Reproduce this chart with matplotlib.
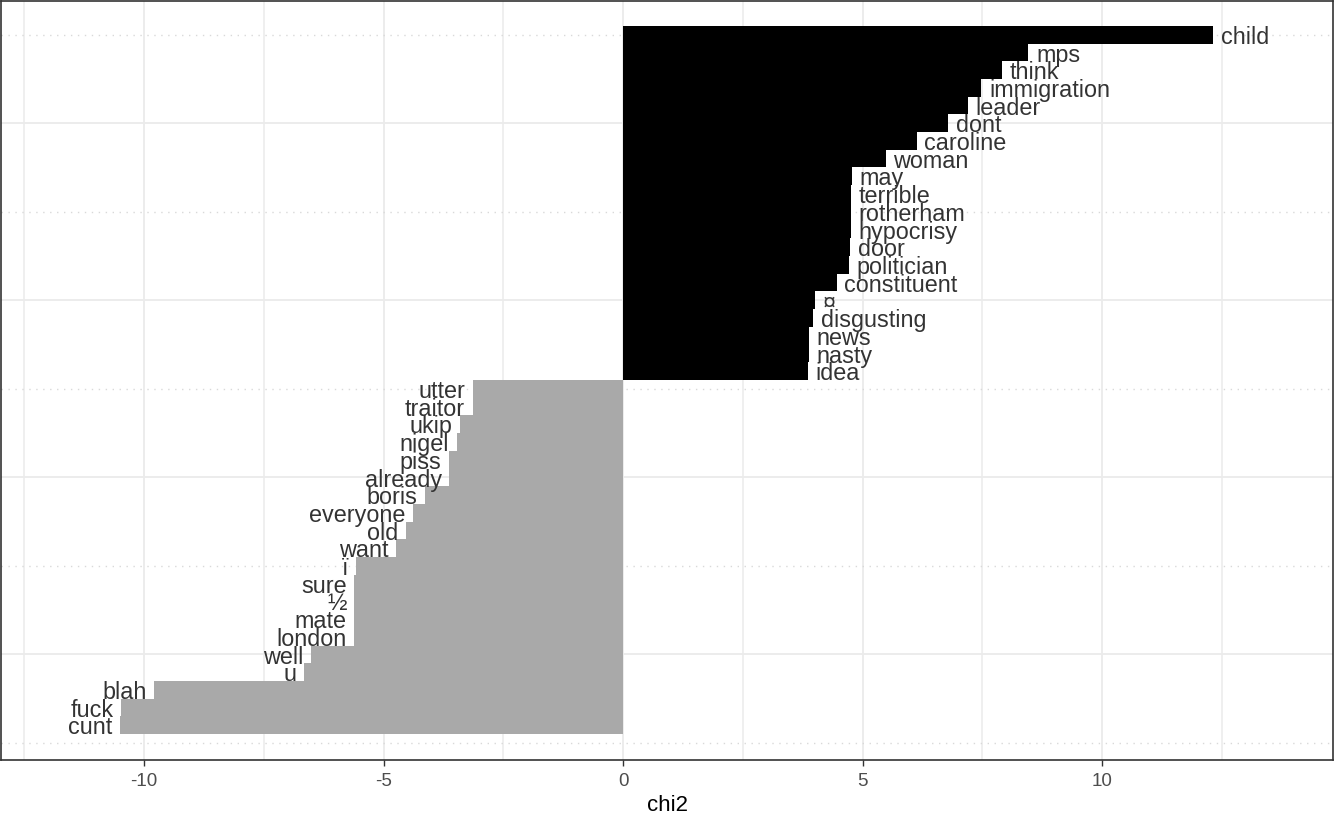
import numpy as np
import matplotlib
matplotlib.use("Agg")
import matplotlib.pyplot as plt
from matplotlib.ticker import MultipleLocator, FixedLocator

plt.rcParams['font.family'] = ['Liberation Sans', 'DejaVu Sans']

# words ordered top to bottom, with their chi2 values
pos_words = ['child', 'mps', 'think', 'immigration', 'leader', 'dont', 'caroline',
             'woman', 'may', 'terrible', 'rotherham', 'hypocrisy', 'door', 'politician',
             'constituent', '¤', 'disgusting', 'news', 'nasty', 'idea']
pos_chi2 = [12.32, 8.46, 7.90, 7.48, 7.20, 6.78, 6.13, 5.48, 4.77, 4.75,
            4.75, 4.75, 4.74, 4.72, 4.46, 4.01, 3.97, 3.87, 3.87, 3.86]

neg_words = ['utter', 'traitor', 'ukip', 'nigel', 'piss', 'already', 'boris',
             'everyone', 'old', 'want', 'ï', 'sure', '½', 'mate', 'london',
             'well', 'u', 'blah', 'fuck', 'cunt']
neg_chi2 = [-3.14, -3.14, -3.40, -3.47, -3.63, -3.63, -4.13, -4.39, -4.53, -4.74,
            -5.58, -5.61, -5.61, -5.61, -5.61, -6.51, -6.66, -9.79, -10.48, -10.51]

words = pos_words + neg_words
chi2 = np.array(pos_chi2 + neg_chi2)
n = len(words)
ypos = np.arange(n, 0, -1)  # top word at n, bottom at 1
colors = ['black' if v > 0 else '#A9A9A9' for v in chi2]

fig = plt.figure(figsize=(13.35, 8.15), dpi=100)
ax = fig.add_axes([1 / 1335, 55 / 815, 1332 / 1335, 759 / 815])

ax.barh(ypos, chi2, height=1.0, color=colors, linewidth=0, zorder=2)

for y, v, w in zip(ypos, chi2, words):
    if v > 0:
        ax.text(v + 0.16, y - 0.15, w, ha='left', va='center', fontsize=16.8,
                color='#333333', zorder=3)
    else:
        ax.text(v - 0.16, y - 0.15, w, ha='right', va='center', fontsize=16.8,
                color='#333333', zorder=3)

ax.set_xlim(-12.99, 14.82)
ax.set_ylim(-0.96, 41.9)

ax.xaxis.set_major_locator(MultipleLocator(5))
ax.xaxis.set_minor_locator(FixedLocator([-12.5, -7.5, -2.5, 2.5, 7.5, 12.5]))
ax.yaxis.set_major_locator(FixedLocator([0, 10, 20, 30, 40]))
ax.yaxis.set_minor_locator(FixedLocator([5, 15, 25, 35]))

ax.grid(which='major', axis='x', color='#EBEBEB', linewidth=1.3, zorder=0)
ax.grid(which='minor', axis='x', color='#EBEBEB', linewidth=1.1, zorder=0)
ax.grid(which='major', axis='y', color='#D9D9D9', linewidth=1.0,
        linestyle=(0, (1, 4)), zorder=0)
ax.grid(which='minor', axis='y', color='#EBEBEB', linewidth=1.3, zorder=0)
ax.set_axisbelow(True)

ax.tick_params(axis='y', which='both', left=False, labelleft=False)
ax.tick_params(axis='x', which='minor', bottom=False)
ax.tick_params(axis='x', which='major', length=4, width=1, color='#333333',
               labelsize=13.5, labelcolor='#4D4D4D', pad=5)
ax.set_xticks([-10, -5, 0, 5, 10])
ax.set_xticklabels(['-10', '-5', '0', '5', '10'])

for s in ax.spines.values():
    s.set_color('#333333')
    s.set_linewidth(1.2)

ax.set_xlabel('chi2', fontsize=16, color='black', labelpad=4)

fig.savefig('out.png', dpi=100)
